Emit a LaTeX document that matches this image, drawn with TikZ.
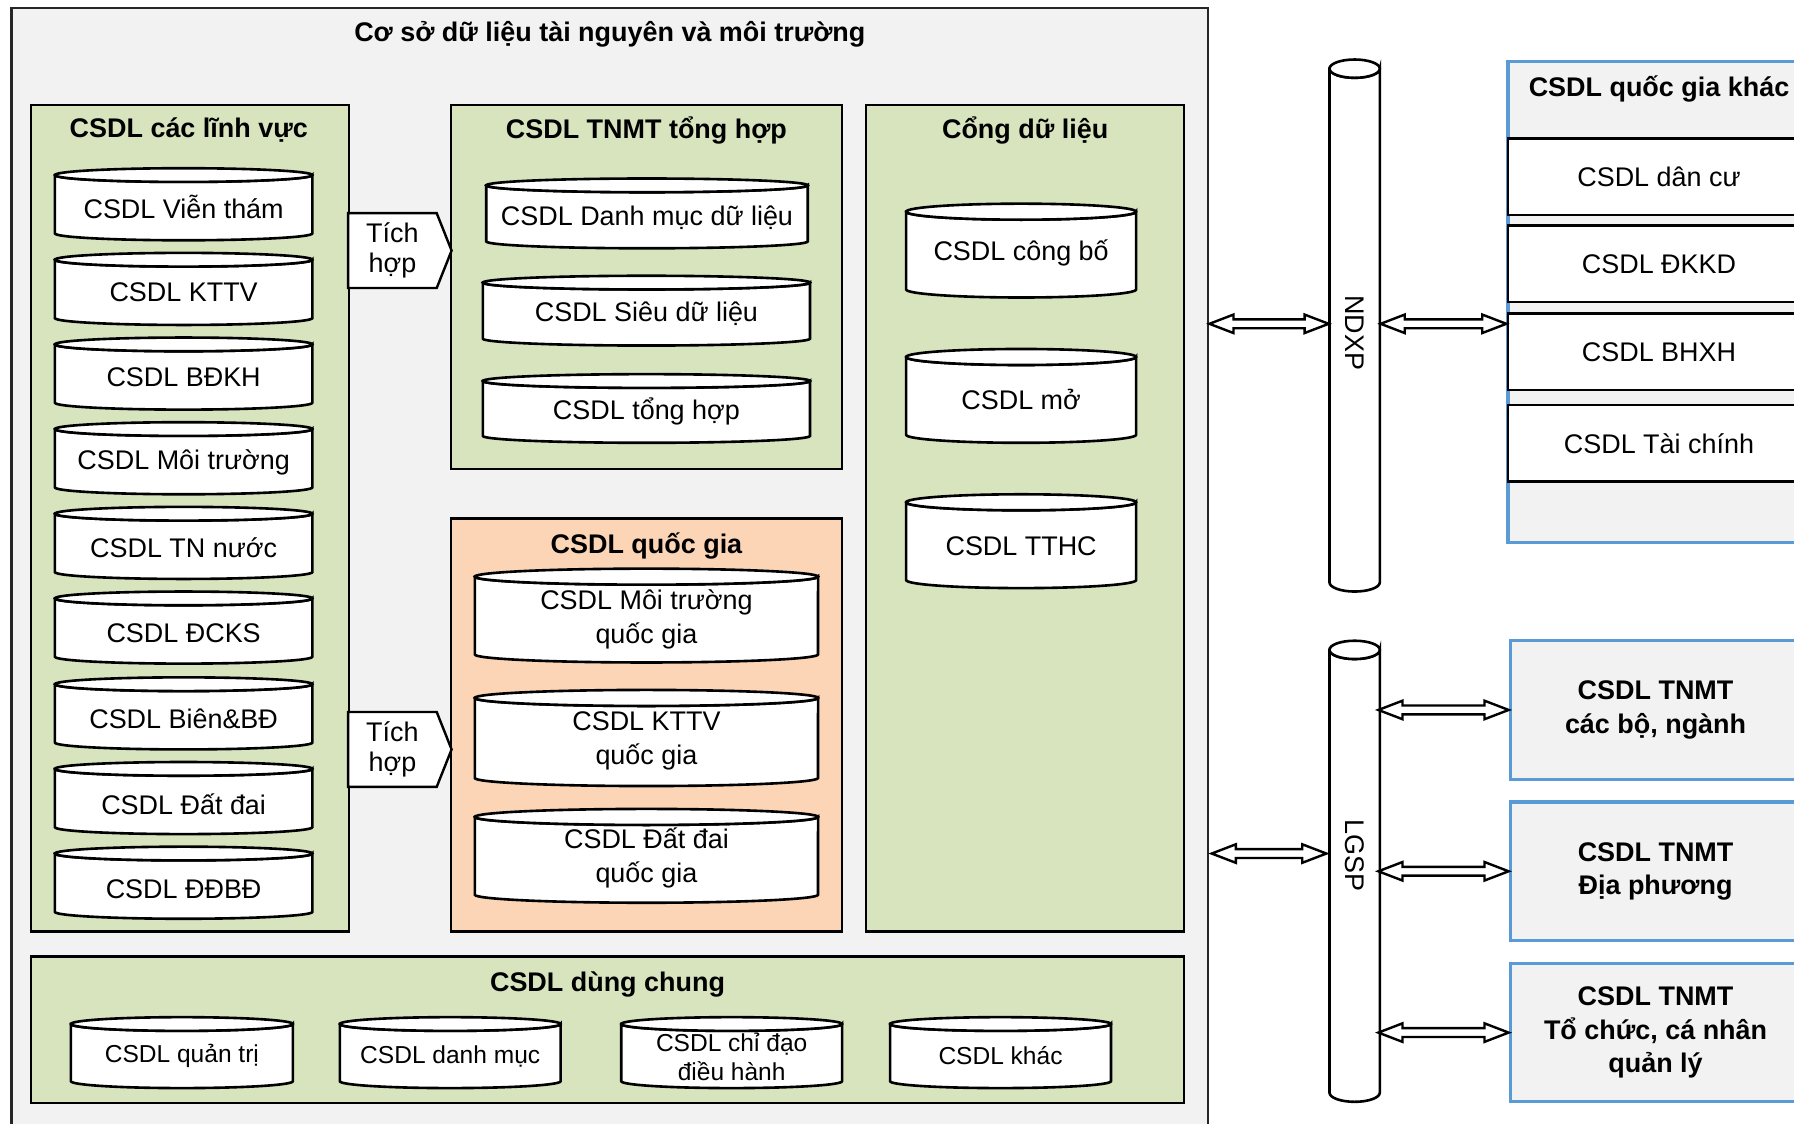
\documentclass[tikz,border=0pt]{standalone}
\usepackage{fontspec}
\setmainfont{Liberation Sans}
\usetikzlibrary{calc}
\definecolor{paneBg}{HTML}{F2F2F2}
\definecolor{greenBg}{HTML}{D7E4BD}
\definecolor{peachBg}{HTML}{FBD5B5}
\definecolor{edgeBlue}{HTML}{5B9BD5}

% database cylinder: name, x1, y1, x2, y2, cap depth, text y, node options, text
\newcommand\dbcyl[9]{%
  \filldraw[cylline] (#2,#3+#6) -- (#2,#5-#6)
    arc[start angle=180,end angle=360,x radius={(#4-#2)*0.05mm},y radius={#6*0.1mm}]
    -- (#4,#3+#6)
    arc[start angle=0,end angle=-180,x radius={(#4-#2)*0.05mm},y radius={#6*0.1mm}]
    -- cycle;
  \filldraw[cylline] ({(#2+#4)/2},#3+#6) ellipse [x radius={(#4-#2)*0.05mm},y radius={#6*0.1mm}];
  \node[lbl,#8] (#1) at ({(#2+#4)/2},#7) {#9};
}

\begin{document}
\begin{tikzpicture}[x=0.1mm,y=-0.1mm,
  lbl/.style={font=\fontsize{6.7}{8.4}\selectfont, align=center, inner sep=0pt},
  small/.style={font=\fontsize{6.1}{7.1}\selectfont},
  hdr/.style={align=center, inner sep=0pt, font=\fontsize{6.7}{8.4}\selectfont\bfseries},
  box/.style={draw=black, line width=0.6pt, inner sep=0pt},
  cylline/.style={draw=black, fill=white, line width=0.65pt},
  tichline/.style={draw=black, fill=white, line width=0.6pt, line join=miter},
  dblarrow/.style={draw=black, fill=white, line width=0.6pt, line join=miter,
    to path={let \p1=(\tikztostart), \p2=(\tikztotarget) in
      (\x1,\y1) -- (\x1+6pt,\y1+2.3pt) -- (\x1+6pt,\y1+1.1pt) -- (\x2-6pt,\y1+1.1pt)
      -- (\x2-6pt,\y1+2.3pt) -- (\x2,\y1) -- (\x2-6pt,\y1-2.3pt) -- (\x2-6pt,\y1-1.1pt)
      -- (\x1+6pt,\y1-1.1pt) -- (\x1+6pt,\y1-2.3pt) -- cycle}}
]
\useasboundingbox (0,0) rectangle (1568,982);
\clip (0,0) rectangle (1568,982);
\fill[white] (0,0) rectangle (1568,982);

% ---------- main container ----------
\node[box, fill=paneBg, draw=black!85, minimum width=104.6mm, minimum height=99.3mm] (outer) at (533,503.5) {};
\node[hdr] (outerTitle) at (533,30) {Cơ sở dữ liệu tài nguyên và môi trường};

% ---------- panels ----------
\node[box, fill=greenBg, minimum width=27.8mm, minimum height=72.2mm] (pA) at (166,453) {};
\node[hdr] (pAtitle) at (165,114) {CSDL các lĩnh vực};
\node[box, fill=greenBg, minimum width=34.2mm, minimum height=31.8mm] (pB) at (565,251) {};
\node[hdr] (pBtitle) at (565,114) {CSDL TNMT tổng hợp};
\node[box, fill=peachBg, minimum width=34.2mm, minimum height=36.1mm] (pC) at (565,633.5) {};
\node[hdr] (pCtitle) at (565,477) {CSDL quốc gia};
\node[box, fill=greenBg, minimum width=27.8mm, minimum height=72.2mm] (pD) at (896,453) {};
\node[hdr] (pDtitle) at (896,114) {Cổng dữ liệu};
\node[box, fill=greenBg, minimum width=100.8mm, minimum height=12.8mm] (pE) at (531,900) {};
\node[hdr] (pEtitle) at (531,860) {CSDL dùng chung};

% ---------- sector databases ----------
\dbcyl{a1}{48}{147}{273}{210}{6}{181}{}{CSDL Viễn thám}
\dbcyl{a2}{48}{221}{273}{284}{6}{255}{}{CSDL KTTV}
\dbcyl{a3}{48}{295}{273}{358}{6}{330}{}{CSDL BĐKH}
\dbcyl{a4}{48}{369}{273}{432}{6}{404.5}{}{CSDL Môi trường}
\dbcyl{a5}{48}{443}{273}{506}{6}{479}{}{CSDL TN nước}
\dbcyl{a6}{48}{517}{273}{580}{6}{553}{}{CSDL ĐCKS}
\dbcyl{a7}{48}{592}{273}{655}{6}{628}{}{CSDL Biên\&BĐ}
\dbcyl{a8}{48}{666}{273}{729}{6}{702.5}{}{CSDL Đất đai}
\dbcyl{a9}{48}{740}{273}{803}{6}{777}{}{CSDL ĐĐBĐ}

% ---------- aggregated databases ----------
\dbcyl{b1}{425}{156}{706}{217}{6}{190}{}{CSDL Danh mục dữ liệu}
\dbcyl{b2}{422}{241}{708}{302}{6}{274}{}{CSDL Siêu dữ liệu}
\dbcyl{b3}{422}{327}{708}{387}{6}{360}{}{CSDL tổng hợp}

% ---------- national databases ----------
\dbcyl{c1}{415}{497}{715}{579}{7}{541}{font=\fontsize{6.7}{8.5}\selectfont}{CSDL Môi trường\\quốc gia}
\dbcyl{c2}{415}{603}{715}{687}{7}{647.5}{font=\fontsize{6.7}{8.5}\selectfont}{CSDL KTTV\\quốc gia}
\dbcyl{c3}{415}{707}{715}{789}{7}{750}{font=\fontsize{6.7}{8.5}\selectfont}{CSDL Đất đai\\quốc gia}

% ---------- data portal ----------
\dbcyl{d1}{792}{178}{993}{260}{7}{221}{}{CSDL công bố}
\dbcyl{d2}{792}{305}{993}{387}{7}{349}{}{CSDL mở}
\dbcyl{d3}{792}{432}{993}{514}{7}{477}{}{CSDL TTHC}

% ---------- shared databases ----------
\dbcyl{e1}{62}{889}{256}{951}{6}{923}{small}{CSDL quản trị}
\dbcyl{e2}{297}{889}{490}{951}{6}{923}{small}{CSDL danh mục}
\dbcyl{e3}{543}{889}{736}{951}{6}{923.5}{small}{CSDL chỉ đạo\\điều hành}
\dbcyl{e4}{778}{889}{971}{951}{6}{923}{small}{CSDL khác}

% ---------- integration arrows ----------
\node[lbl, minimum width=7.6mm, minimum height=6.4mm] (t1) at (343,219) {};
\draw[tichline] (t1.north west) -- (t1.north east) -- ([xshift=1.3mm]t1.east) -- (t1.south east) -- (t1.south west) -- cycle;
\node[lbl, font=\fontsize{6.7}{7.4}\selectfont] (t1txt) at (t1.center) {Tích\\hợp};
\node[lbl, minimum width=7.6mm, minimum height=6.4mm] (t2) at (343,655) {};
\draw[tichline] (t2.north west) -- (t2.north east) -- ([xshift=1.3mm]t2.east) -- (t2.south east) -- (t2.south west) -- cycle;
\node[lbl, font=\fontsize{6.7}{7.4}\selectfont] (t2txt) at (t2.center) {Tích\\hợp};

% ---------- exchange platforms ----------
\dbcyl{ndxpLabel}{1162}{52}{1206}{517}{8}{291}{rotate=-90}{NDXP}
\node[inner sep=0pt, minimum width=4.4mm, minimum height=46.5mm] (ndxp) at (1184,284.5) {};
\dbcyl{lgspLabel}{1162}{560}{1206}{963}{8}{748}{rotate=-90}{LGSP}
\node[inner sep=0pt, minimum width=4.4mm, minimum height=40.3mm] (lgsp) at (1184,761.5) {};

% ---------- other national databases ----------
\node[box, draw=edgeBlue, line width=0.8pt, fill=paneBg, minimum width=28.2mm, minimum height=42mm] (qgk) at (1459,264) {};
\node[hdr] (qgkTitle) at (1450,78) {CSDL quốc gia khác};
\node[box, fill=white, lbl, minimum width=26.4mm, minimum height=6.7mm] (q1) at (1450,154.5) {CSDL dân cư};
\node[box, fill=white, lbl, minimum width=26.4mm, minimum height=6.7mm] (q2) at (1450,230.5) {CSDL ĐKKD};
\node[box, fill=white, lbl, minimum width=26.4mm, minimum height=6.7mm] (q3) at (1450,307.5) {CSDL BHXH};
\node[box, fill=white, lbl, minimum width=26.4mm, minimum height=6.7mm] (q4) at (1450,387.5) {CSDL Tài chính};

% ---------- ministry / local / organisation databases ----------
\node[box, draw=edgeBlue, line width=0.8pt, fill=paneBg, hdr, font=\fontsize{6.7}{8.3}\selectfont\bfseries, minimum width=25.4mm, minimum height=12.1mm] (tn1) at (1447,620.5) {CSDL TNMT\\các bộ, ngành};
\node[box, draw=edgeBlue, line width=0.8pt, fill=paneBg, hdr, font=\fontsize{6.7}{8.3}\selectfont\bfseries, minimum width=25.4mm, minimum height=12.1mm] (tn2) at (1447,761.5) {CSDL TNMT\\Địa phương};
\node[box, draw=edgeBlue, line width=0.8pt, fill=paneBg, hdr, font=\fontsize{6.7}{8.3}\selectfont\bfseries, minimum width=25.4mm, minimum height=12.1mm] (tn3) at (1447,902.5) {CSDL TNMT\\Tổ chức, cá nhân\\quản lý};

% ---------- exchange connectors ----------
\coordinate (yN) at (1100,283);
\coordinate (yL) at (1100,746);
\draw[dblarrow] (outer.east |- yN) to (ndxp.west |- yN);
\draw[dblarrow] (ndxp.east |- yN) to (qgk.west |- yN);
\draw[dblarrow] ([xshift=0.2mm]outer.east |- yL) to ([xshift=-0.2mm]lgsp.west |- yL);
\draw[dblarrow] ([xshift=-0.2mm]lgsp.east |- tn1.west) to (tn1.west);
\draw[dblarrow] ([xshift=-0.2mm]lgsp.east |- tn2.west) to (tn2.west);
\draw[dblarrow] ([xshift=-0.2mm]lgsp.east |- tn3.west) to (tn3.west);
\end{tikzpicture}
\end{document}
